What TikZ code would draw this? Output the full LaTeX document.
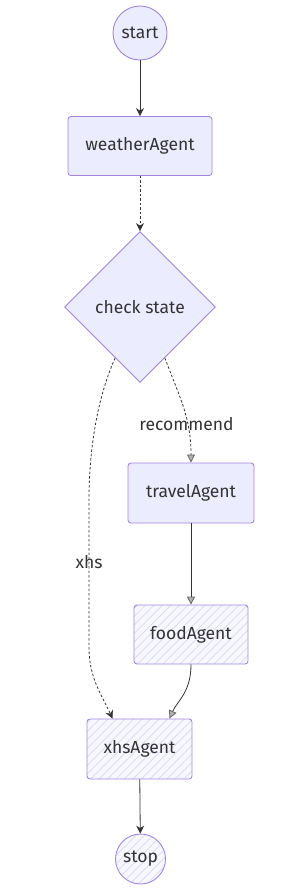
\documentclass[tikz,border=0pt]{standalone}
\usepackage{fontspec}
\setmainfont{Fira Sans}
\usetikzlibrary{shapes.geometric,arrows.meta,patterns.meta}
\definecolor{nodefill}{HTML}{ECECFF}
\definecolor{nodeborder}{HTML}{9370DB}
\definecolor{hatchline}{HTML}{DCD5F5}
\definecolor{edgecol}{HTML}{333333}
\begin{document}
\begin{tikzpicture}[x=1pt,y=-1pt,
  every node/.style={font=\fontsize{17.5}{19}\selectfont, text=edgecol},
  base/.style={draw=nodeborder!85!white, line width=0.9pt},
  solidbox/.style={base, fill=nodefill, rounded corners=3pt, inner sep=0pt},
  hatchbox/.style={base, rounded corners=3pt, inner sep=0pt,
     preaction={fill=white!60!nodefill},
     pattern={Lines[angle=45,distance=6pt,line width=0.7pt]}, pattern color=hatchline},
  solidcirc/.style={base, circle, fill=nodefill, inner sep=0pt},
  hatchcirc/.style={base, circle, inner sep=0pt,
     preaction={fill=white!60!nodefill},
     pattern={Lines[angle=45,distance=6pt,line width=0.7pt]}, pattern color=hatchline},
  decision/.style={base, diamond, aspect=1, fill=nodefill, inner sep=0pt, minimum size=151pt},
  edgeA/.style={draw=edgecol, line width=0.8pt, -{Stealth[length=8pt,width=8pt]}},
  edgeB/.style={draw=edgecol, line width=0.8pt, -{Triangle[length=8pt,width=8pt,color=gray!80!black,fill=gray!60]}},
  dashedge/.style={dashed, dash pattern=on 2.5pt off 2pt},
  lbl/.style={font=\fontsize{17.5}{19}\selectfont, text=edgecol}
]
\useasboundingbox (0,0) rectangle (303,895);
\node[solidcirc, minimum size=54pt] (start) at (140,33) {start};
\node[solidbox, minimum width=144pt, minimum height=59pt] (weather) at (140,146) {weatherAgent};
\node[decision] (check) at (140,307) {check state};
\node[solidbox, minimum width=126pt, minimum height=60pt] (travel) at (191,493) {travelAgent};
\node[hatchbox, minimum width=114pt, minimum height=59pt] (food) at (191,634.5) {foodAgent};
\node[hatchbox, minimum width=105pt, minimum height=60pt] (xhs) at (139.5,749) {xhsAgent};
\node[hatchcirc, minimum size=50pt] (stop) at (140.5,859) {stop};

\draw[edgeA] (start) -- (weather);
\draw[edgeA, dashedge] (weather) -- (check);
\draw[edgeB, dashedge] (check.-64) .. controls +(15,40) and +(0,-45) .. (travel.north)
  node[lbl, pos=0.66, anchor=center, xshift=-1pt] {recommend};
\draw[edgeB] (travel) -- (food);
\draw[edgeB] (food.south) .. controls +(0,28) and +(8,-18) .. ([xshift=30pt]xhs.north);
\draw[edgeA, dashedge] (check.-116) .. controls +(-18,40) and +(0,-50) .. (89,500)
  -- node[lbl, pos=0.42] {xhs} (89,648) .. controls +(0,30) and +(-10,-22) .. ([xshift=-27pt]xhs.north);
\draw[edgeA] (xhs) -- (stop);
\end{tikzpicture}
\end{document}
